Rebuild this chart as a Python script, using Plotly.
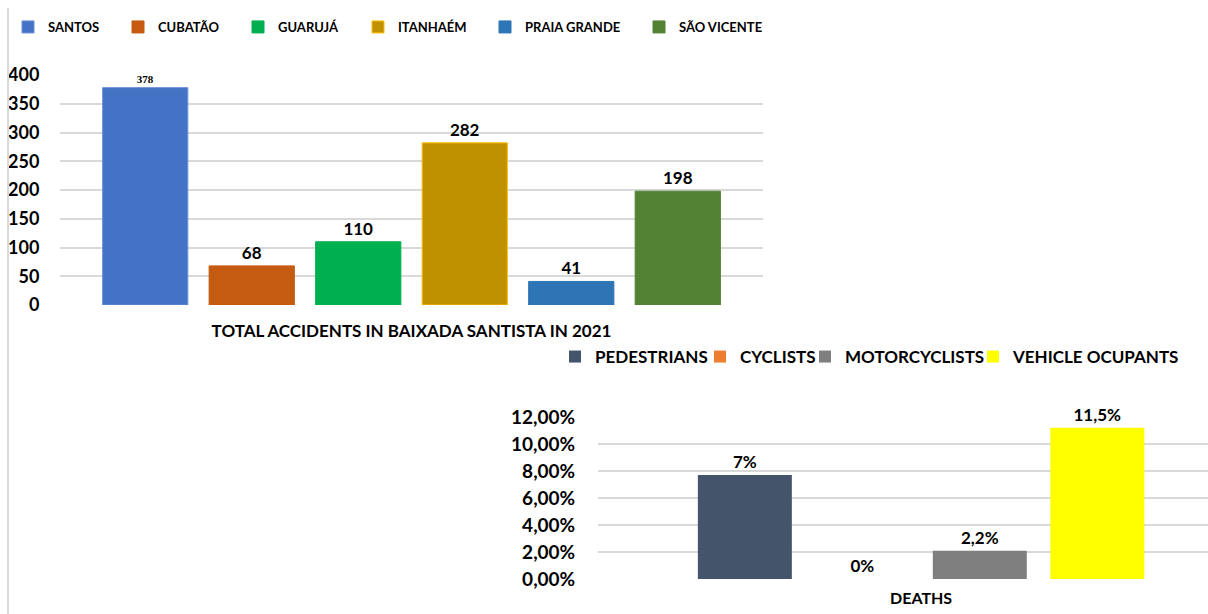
import plotly.graph_objects as go

# ---- data: top chart ----
cities = ["SANTOS", "CUBATÃO", "GUARUJÁ", "ITANHAÉM", "PRAIA GRANDE", "SÃO VICENTE"]
accidents = [378, 68, 110, 282, 41, 198]
city_colors = ["#4472C4", "#C55A11", "#00B050", "#BF9000", "#2E75B6", "#548235"]
city_edges = ["#6A8FD6", "#C55A11", "#00B050", "#FFC000", "#2E75B6", "#548235"]
top_category = "TOTAL ACCIDENTS IN BAIXADA SANTISTA IN 2021"
top_ticks = [0, 50, 100, 150, 200, 250, 300, 350, 400]

# ---- data: bottom chart ----
groups = ["PEDESTRIANS", "CYCLISTS", "MOTORCYCLISTS", "VEHICLE OCUPANTS"]
death_share = [0.077, 0.0, 0.021, 0.112]
death_labels = ["7%", "0%", "2,2%", "11,5%"]
group_colors = ["#44546A", "#ED7D31", "#7F7F7F", "#FFFF00"]
bottom_category = "DEATHS"
bottom_ticks = [0, 0.02, 0.04, 0.06, 0.08, 0.10, 0.12]

W, H = 1208, 614
FONT = "Lato"

# legend entry left positions (px)
top_leg_x = [8, 118, 238, 358, 485, 639]
bot_leg_x = [555, 700, 805, 973]

fig = go.Figure()
layout_legends = {}

for i, (c, v, col, ec) in enumerate(zip(cities, accidents, city_colors, city_edges)):
    lname = "legend" if i == 0 else f"legend{i + 1}"
    if i == 0:
        tf = dict(family="Liberation Serif", size=11, color="#000000", weight="bold")
    else:
        tf = dict(family=FONT, size=17, color="#000000", weight="bold")
    fig.add_trace(go.Bar(
        x=[top_category], y=[v], name=c, marker=dict(color=col, line=dict(color=ec, width=1)),
        text=[str(v)], textposition="outside", textfont=tf, cliponaxis=False,
        xaxis="x", yaxis="y", legend=lname, showlegend=True, hoverinfo="name+y"))
    layout_legends[lname] = dict(
        x=top_leg_x[i] / W, xanchor="left", y=1 - 27 / H, yanchor="middle",
        xref="container", yref="container",
        orientation="h", bgcolor="rgba(0,0,0,0)",
        font=dict(family=FONT, size=13, color="#000000", weight="bold"))

for j, (g, v, lab, col) in enumerate(zip(groups, death_share, death_labels, group_colors)):
    lname = f"legend{len(cities) + j + 1}"
    fig.add_trace(go.Bar(
        x=[bottom_category], y=[v], name=g, marker=dict(color=col, line=dict(width=0)),
        text=[lab], textposition="outside",
        textfont=dict(family=FONT, size=17, color="#000000", weight="bold"), cliponaxis=False,
        xaxis="x2", yaxis="y2", legend=lname, showlegend=True, hoverinfo="name+y"))
    layout_legends[lname] = dict(
        x=bot_leg_x[j] / W, xanchor="left", y=1 - 357 / H, yanchor="middle",
        xref="container", yref="container",
        orientation="h", bgcolor="rgba(0,0,0,0)",
        font=dict(family=FONT, size=17, color="#000000", weight="bold"))

grid = "#D9D9D9"

fig.update_layout(
    width=W, height=H, margin=dict(l=0, r=0, t=0, b=0, autoexpand=False),
    paper_bgcolor="white", plot_bgcolor="white",
    showlegend=True,
    barmode="group", bargap=0.2, bargroupgap=0.2,
    separators=",.",
    xaxis=dict(domain=[60 / W, 763 / W], anchor="y", type="category", automargin=False,
               range=[-0.44, 0.44], showgrid=False, showline=False, zeroline=False,
               ticks="outside", ticklen=11, tickcolor="rgba(0,0,0,0)",
               tickfont=dict(family=FONT, size=17, color="#000000", weight="bold")),
    yaxis=dict(domain=[1 - 305 / H, 1 - 75 / H], anchor="x", range=[0, 400], automargin=False,
               tickvals=top_ticks, showgrid=True, gridcolor=grid, gridwidth=1.5,
               zeroline=False, showline=False,
               ticks="outside", ticklen=16, tickcolor="rgba(0,0,0,0)",
               tickfont=dict(family=FONT, size=18, color="#000000", weight="bold")),
    xaxis2=dict(domain=[598 / W, 1.0], anchor="y2", type="category", automargin=False,
                range=[-0.55, 0.4885], showgrid=False, showline=False, zeroline=False,
                ticks="outside", ticklen=5, tickcolor="rgba(0,0,0,0)",
                tickfont=dict(family=FONT, size=16, color="#000000", weight="bold")),
    yaxis2=dict(domain=[1 - 579 / H, 1 - 417 / H], anchor="x2", range=[0, 0.12],
                automargin=False,
                tickvals=bottom_ticks, tickformat=".2%", showgrid=True, gridcolor=grid,
                gridwidth=1.5, zeroline=False, showline=False,
                ticks="outside", ticklen=18, tickcolor="rgba(0,0,0,0)",
                tickfont=dict(family=FONT, size=19, color="#000000", weight="bold")),
    shapes=[dict(type="line", xref="paper", yref="paper", x0=8 / W, x1=8 / W,
                 y0=0, y1=1 - 8 / H, line=dict(color="#D9D9D9", width=2))],
    **layout_legends,
)

fig.write_html("out.html")
